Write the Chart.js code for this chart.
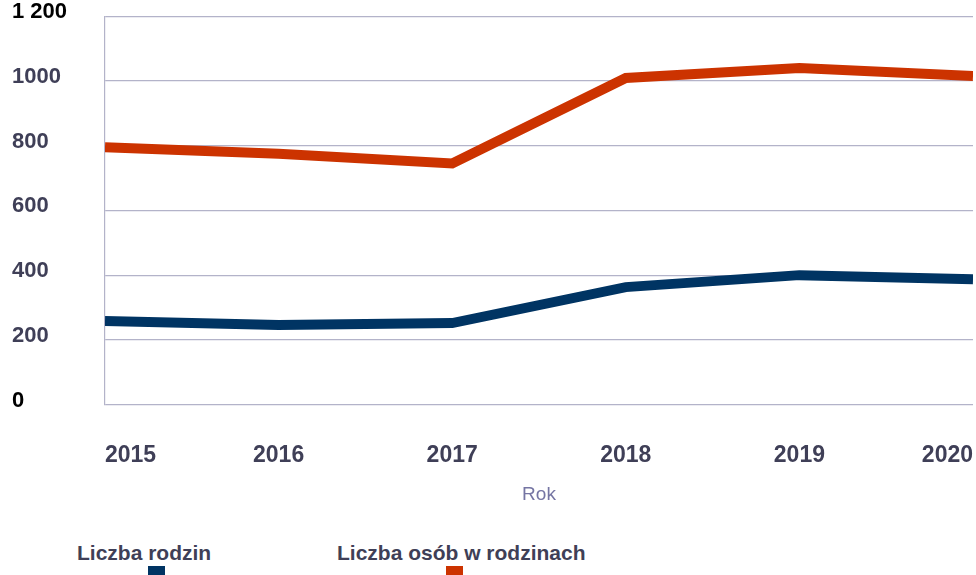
<!DOCTYPE html>
<html>
<head>
<meta charset="utf-8">
<script src="https://cdn.jsdelivr.net/npm/chart.js@4/dist/chart.umd.min.js"></script>
<style>
  body { margin: 0; background: #fff; overflow: hidden; }
  #wrap { position: relative; width: 976px; height: 575px; }
  #box { position: absolute; left: 0; top: 0; width: 976px; height: 520px; }
  .leg { position: absolute; font: bold 21px "Liberation Sans", Arial, sans-serif; color: #3f3f57; white-space: nowrap; }
  .sw { position: absolute; width: 17px; height: 10px; }
</style>
</head>
<body>
<div id="wrap">
  <div id="box"><canvas id="rodzinyChart"></canvas></div>
  <div class="leg" style="left:77px; top:541px;">Liczba rodzin</div>
  <div class="sw" style="left:148px; top:566px; background:#003463;"></div>
  <div class="leg" style="left:337px; top:541px;">Liczba osób w rodzinach</div>
  <div class="sw" style="left:446px; top:566px; background:#cc3300;"></div>
</div>
<script>
// values
const years = [2015, 2016, 2017, 2018, 2019, 2020];
const liczbaRodzin = [258, 246, 252, 363, 400, 387];
const liczbaOsob = [795, 775, 745, 1009, 1040, 1015];
const yTicks = [0, 200, 400, 600, 800, 1000, 1200];

const greyText = '#3f3f57';
const gridColor = '#b3b3c9';

const data = {
  labels: years,
  datasets: [
    {
      label: 'Liczba rodzin',
      data: liczbaRodzin,
      borderColor: '#003463',
      borderWidth: 10,
      pointRadius: 0,
      tension: 0,
    },
    {
      label: 'Liczba osób w rodzinach',
      data: liczbaOsob,
      borderColor: '#cc3300',
      borderWidth: 10,
      pointRadius: 0,
      tension: 0,
    },
  ],
};

const config = {
  type: 'line',
  data: data,
  options: {
    responsive: true,
    maintainAspectRatio: false,
    animation: false,
    layout: { padding: { left: 12, top: 14, right: 3, bottom: 14 } },
    plugins: {
      legend: { display: false },
      tooltip: { enabled: false },
    },
    scales: {
      x: {
        type: 'linear',
        min: years[0],
        max: years[years.length - 1],
        // invisible tick marks only to push the labels down
        grid: { display: true, drawOnChartArea: false, drawTicks: true, tickLength: 37, tickColor: 'rgba(0,0,0,0)' },
        border: { display: false },
        afterBuildTicks: (scale) => { scale.ticks = years.map(v => ({ value: v })); },
        ticks: {
          align: 'inner',
          padding: 0,
          color: greyText,
          font: { family: '"Liberation Sans", Arial, sans-serif', size: 23, weight: 'bold' },
          callback: (v) => String(v),
        },
        title: {
          display: true,
          text: 'Rok',
          color: '#7575a3',
          padding: { top: 14, bottom: 0 },
          font: { family: '"Liberation Sans", Arial, sans-serif', size: 19 },
        },
      },
      y: {
        min: 0,
        max: 1200,
        afterBuildTicks: (scale) => { scale.ticks = yTicks.map(v => ({ value: v })); },
        afterFit: (scale) => { scale.width = 93; },
        grid: { color: gridColor, lineWidth: 1.2, drawTicks: false },
        border: { display: true, color: gridColor, width: 1.2 },
        ticks: {
          crossAlign: 'far',
          labelOffset: -4,
          color: (ctx) => (ctx.tick && (ctx.tick.value === 0 || ctx.tick.value === 1200)) ? '#000' : greyText,
          font: { family: '"Liberation Sans", Arial, sans-serif', size: 22, weight: 'bold' },
          callback: (v) => v === 1200 ? '1 200' : String(v),
        },
      },
    },
  },
};

new Chart(document.getElementById('rodzinyChart'), config);
</script>
</body>
</html>
